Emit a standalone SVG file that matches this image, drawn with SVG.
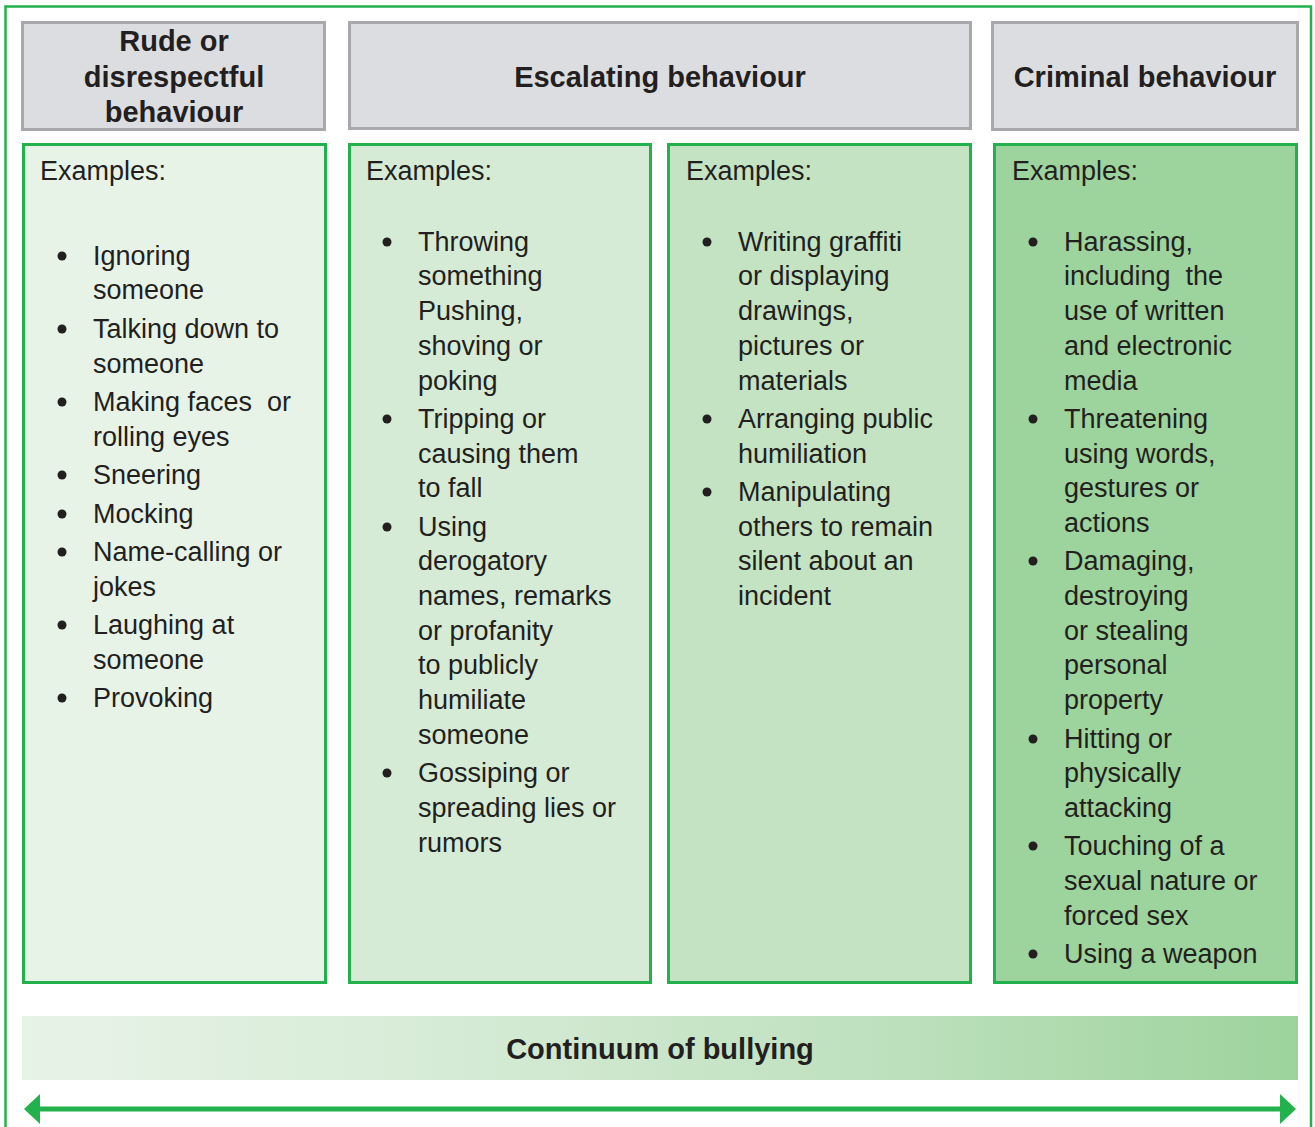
<svg xmlns="http://www.w3.org/2000/svg" width="1315" height="1127" viewBox="0 0 1315 1127">
<defs>
<linearGradient id="grad" x1="0" y1="0" x2="1" y2="0">
<stop offset="0" stop-color="#e8f3e8"/>
<stop offset="0.33" stop-color="#d6ebd6"/>
<stop offset="0.66" stop-color="#bfe1bf"/>
<stop offset="1" stop-color="#9dd39c"/>
</linearGradient>
<marker id="ah" viewBox="0 0 16 30" refX="2" refY="15" markerWidth="16" markerHeight="30" markerUnits="userSpaceOnUse" orient="auto-start-reverse">
<polygon points="0,0 16,15 0,30" fill="#22b14c"/>
</marker>
</defs>
<style>
.hdr{fill:#dcdde0;stroke:#a7a9ac;stroke-width:3}
.box{stroke:#22b14c;stroke-width:3}
.ht{font-family:"Liberation Sans",Arial,sans-serif;font-weight:bold;font-size:29px;fill:#231f20;text-anchor:middle}
.t{font-family:"Liberation Sans",Arial,sans-serif;font-size:27px;fill:#231f20}
.d{fill:#231f20}
</style>
<rect x="5.5" y="6.5" width="1305.5" height="1140" fill="none" stroke="#22b14c" stroke-width="2.5"/>

<g id="header-rude">
<rect class="hdr" x="22.5" y="22.5" width="302" height="107"/>
<text class="ht" x="174" y="51">Rude or</text>
<text class="ht" x="174" y="87">disrespectful</text>
<text class="ht" x="174" y="122">behaviour</text>
</g>
<g id="header-escalating">
<rect class="hdr" x="349.5" y="22.5" width="621" height="106"/>
<text class="ht" x="660" y="87">Escalating behaviour</text>
</g>
<g id="header-criminal">
<rect class="hdr" x="992.5" y="22.5" width="305" height="107"/>
<text class="ht" x="1145" y="87">Criminal behaviour</text>
</g>

<g id="col1">
<rect class="box" x="23.5" y="144.5" width="302" height="838" fill="#e8f3e8"/>
<text class="t" x="40" y="180">Examples:</text>
<g class="d"><circle cx="62" cy="256" r="4.5"/><circle cx="62" cy="329" r="4.5"/><circle cx="62" cy="402" r="4.5"/><circle cx="62" cy="475" r="4.5"/><circle cx="62" cy="514" r="4.5"/><circle cx="62" cy="552" r="4.5"/><circle cx="62" cy="625" r="4.5"/><circle cx="62" cy="698" r="4.5"/></g>
<g class="t">
<text x="93" y="265">Ignoring</text>
<text x="93" y="299">someone</text>
<text x="93" y="338">Talking down to</text>
<text x="93" y="373">someone</text>
<text x="93" y="411" xml:space="preserve">Making faces  or</text>
<text x="93" y="446">rolling eyes</text>
<text x="93" y="484">Sneering</text>
<text x="93" y="523">Mocking</text>
<text x="93" y="561">Name-calling or</text>
<text x="93" y="596">jokes</text>
<text x="93" y="634">Laughing at</text>
<text x="93" y="669">someone</text>
<text x="93" y="707">Provoking</text>
</g>
</g>

<g id="col2">
<rect class="box" x="349.5" y="144.5" width="301" height="838" fill="#d5ebd5"/>
<text class="t" x="366" y="180">Examples:</text>
<g class="d"><circle cx="387" cy="242" r="4.5"/><circle cx="387" cy="419" r="4.5"/><circle cx="387" cy="527" r="4.5"/><circle cx="387" cy="773" r="4.5"/></g>
<g class="t">
<text x="418" y="251">Throwing</text>
<text x="418" y="285">something</text>
<text x="418" y="320">Pushing,</text>
<text x="418" y="355">shoving or</text>
<text x="418" y="390">poking</text>
<text x="418" y="428">Tripping or</text>
<text x="418" y="463">causing them</text>
<text x="418" y="497">to fall</text>
<text x="418" y="536">Using</text>
<text x="418" y="570">derogatory</text>
<text x="418" y="605">names, remarks</text>
<text x="418" y="640">or profanity</text>
<text x="418" y="674">to publicly</text>
<text x="418" y="709">humiliate</text>
<text x="418" y="744">someone</text>
<text x="418" y="782">Gossiping or</text>
<text x="418" y="817">spreading lies or</text>
<text x="418" y="852">rumors</text>
</g>
</g>

<g id="col3">
<rect class="box" x="668.5" y="144.5" width="302" height="838" fill="#c3e3c3"/>
<text class="t" x="686" y="180">Examples:</text>
<g class="d"><circle cx="707" cy="242" r="4.5"/><circle cx="707" cy="419" r="4.5"/><circle cx="707" cy="492" r="4.5"/></g>
<g class="t">
<text x="738" y="251">Writing graffiti</text>
<text x="738" y="285">or displaying</text>
<text x="738" y="320">drawings,</text>
<text x="738" y="355">pictures or</text>
<text x="738" y="390">materials</text>
<text x="738" y="428">Arranging public</text>
<text x="738" y="463">humiliation</text>
<text x="738" y="501">Manipulating</text>
<text x="738" y="536">others to remain</text>
<text x="738" y="570">silent about an</text>
<text x="738" y="605">incident</text>
</g>
</g>

<g id="col4">
<rect class="box" x="994.5" y="144.5" width="302" height="838" fill="#9dd39c"/>
<text class="t" x="1012" y="180">Examples:</text>
<g class="d"><circle cx="1033" cy="242" r="4.5"/><circle cx="1033" cy="419" r="4.5"/><circle cx="1033" cy="561" r="4.5"/><circle cx="1033" cy="739" r="4.5"/><circle cx="1033" cy="846" r="4.5"/><circle cx="1033" cy="954" r="4.5"/></g>
<g class="t">
<text x="1064" y="251">Harassing,</text>
<text x="1064" y="285" xml:space="preserve">including  the</text>
<text x="1064" y="320">use of written</text>
<text x="1064" y="355">and electronic</text>
<text x="1064" y="390">media</text>
<text x="1064" y="428">Threatening</text>
<text x="1064" y="463">using words,</text>
<text x="1064" y="497">gestures or</text>
<text x="1064" y="532">actions</text>
<text x="1064" y="570">Damaging,</text>
<text x="1064" y="605">destroying</text>
<text x="1064" y="640">or stealing</text>
<text x="1064" y="674">personal</text>
<text x="1064" y="709">property</text>
<text x="1064" y="748">Hitting or</text>
<text x="1064" y="782">physically</text>
<text x="1064" y="817">attacking</text>
<text x="1064" y="855">Touching of a</text>
<text x="1064" y="890">sexual nature or</text>
<text x="1064" y="925">forced sex</text>
<text x="1064" y="963">Using a weapon</text>
</g>
</g>

<g id="continuum">
<rect x="22" y="1016" width="1276" height="64" fill="url(#grad)"/>
<text class="ht" x="660" y="1059">Continuum of bullying</text>
</g>

<g id="connectors">
<line x1="38" y1="1109" x2="1282" y2="1109" stroke="#22b14c" stroke-width="5" marker-start="url(#ah)" marker-end="url(#ah)"/>
</g>
</svg>
